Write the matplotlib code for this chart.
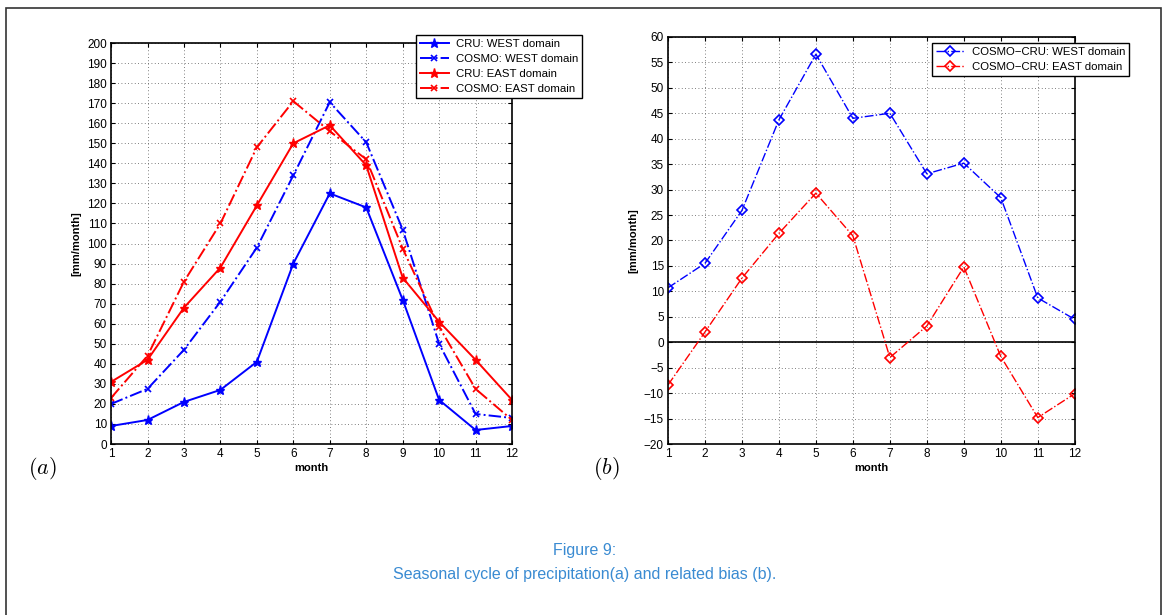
import matplotlib.pyplot as plt
import numpy as np
from matplotlib.patches import Rectangle

plt.rcParams["font.family"] = ["Liberation Sans", "DejaVu Sans"]
plt.rcParams["mathtext.fontset"] = "cm"

months = np.arange(1, 13)

# (a) seasonal cycle of precipitation [mm/month]
cru_west = [9, 12, 21, 27, 41, 90, 125, 118, 72, 22, 7, 9]
cosmo_west = [20, 27.5, 47, 71, 98, 134, 170.5, 150.5, 107, 50, 15, 13]
cru_east = [31, 42, 68, 88, 119, 150, 159, 139, 83, 61, 42, 22]
cosmo_east = [23, 44, 81, 110, 148, 171, 156, 142, 97.5, 58.5, 27.5, 12]

# (b) bias COSMO - CRU [mm/month]
bias_west = [10.7, 15.5, 25.9, 43.7, 56.6, 44.0, 45.0, 33.1, 35.2, 28.4, 8.7, 4.5]
bias_east = [-8.4, 2.0, 12.6, 21.4, 29.3, 20.9, -3.0, 3.2, 14.8, -2.8, -14.8, -10.1]

fig = plt.figure(figsize=(11.69, 6.15), dpi=100)

# page frame
fig.patches.append(Rectangle((6 / 1169, -0.01), 1155 / 1169, 1 - 8 / 615 + 0.01,
                             transform=fig.transFigure, fill=False,
                             edgecolor="#333333", linewidth=1.2))


def style_axes(ax):
    ax.tick_params(direction="in", top=True, right=True, labelsize=8.5,
                   length=3, width=0.8, pad=3)
    ax.grid(True, linestyle=(0, (1, 3)), color="#555555", linewidth=0.6)
    for s in ax.spines.values():
        s.set_linewidth(1.2)
    ax.set_xlim(1, 12)
    ax.set_xticks(months)
    ax.set_xlabel("month", fontsize=8, fontweight="bold", labelpad=2)
    ax.set_ylabel("[mm/month]", fontsize=8, fontweight="bold", labelpad=4)


def add_legend(ax, anchor):
    leg = ax.legend(loc="upper right", bbox_to_anchor=anchor,
                    bbox_transform=fig.transFigure, fontsize=8.2,
                    fancybox=False, edgecolor="black", framealpha=1,
                    borderpad=0.35, labelspacing=0.45, handlelength=2.6,
                    handletextpad=0.6)
    leg.get_frame().set_linewidth(1.0)
    return leg


ax1 = fig.add_axes([0.095, 0.278, 0.343, 0.652])
ax1.plot(months, cru_west, "-", color="blue", lw=1.4, marker="*", ms=6.5,
         label="CRU: WEST domain")
ax1.plot(months, cosmo_west, "-.", color="blue", lw=1.4, marker="x", ms=5,
         mew=1.2, label="COSMO: WEST domain")
ax1.plot(months, cru_east, "-", color="red", lw=1.4, marker="*", ms=6.5,
         label="CRU: EAST domain")
ax1.plot(months, cosmo_east, "-.", color="red", lw=1.4, marker="x", ms=5,
         mew=1.2, label="COSMO: EAST domain")
ax1.set_ylim(0, 200)
ax1.set_yticks(np.arange(0, 201, 10))
style_axes(ax1)
add_legend(ax1, (0.503, 0.953))

ax2 = fig.add_axes([0.5714, 0.278, 0.348, 0.662])
ax2.axhline(0, color="black", lw=1.2)
ax2.plot(months, bias_west, "-.", color="blue", lw=1.0, marker="D", ms=5.5,
         mfc="none", mew=1.2, label="COSMO\u2212CRU: WEST domain")
ax2.plot(months, bias_east, "-.", color="red", lw=1.0, marker="D", ms=5.5,
         mfc="none", mew=1.2, label="COSMO\u2212CRU: EAST domain")
ax2.set_ylim(-20, 60)
ax2.set_yticks(np.arange(-20, 61, 5))
ax2.set_yticklabels([f"{v}".replace("-", "\u2212") for v in range(-20, 61, 5)])
style_axes(ax2)
add_legend(ax2, (0.971, 0.939))

fig.text(42 / 1169, 1 - 468 / 615, r"$(a)$", fontsize=16, ha="center", va="center")
fig.text(606 / 1169, 1 - 468 / 615, r"$(b)$", fontsize=16, ha="center", va="center")

cap_color = "#3a8bd2"
fig.text(0.5, 1 - 551 / 615, "Figure 9:", fontsize=11.5, color=cap_color,
         ha="center", va="center")
fig.text(0.5, 1 - 575 / 615,
         "Seasonal cycle of precipitation(a) and related bias (b).",
         fontsize=11.5, color=cap_color, ha="center", va="center")

fig.savefig("out.png", dpi=100)
